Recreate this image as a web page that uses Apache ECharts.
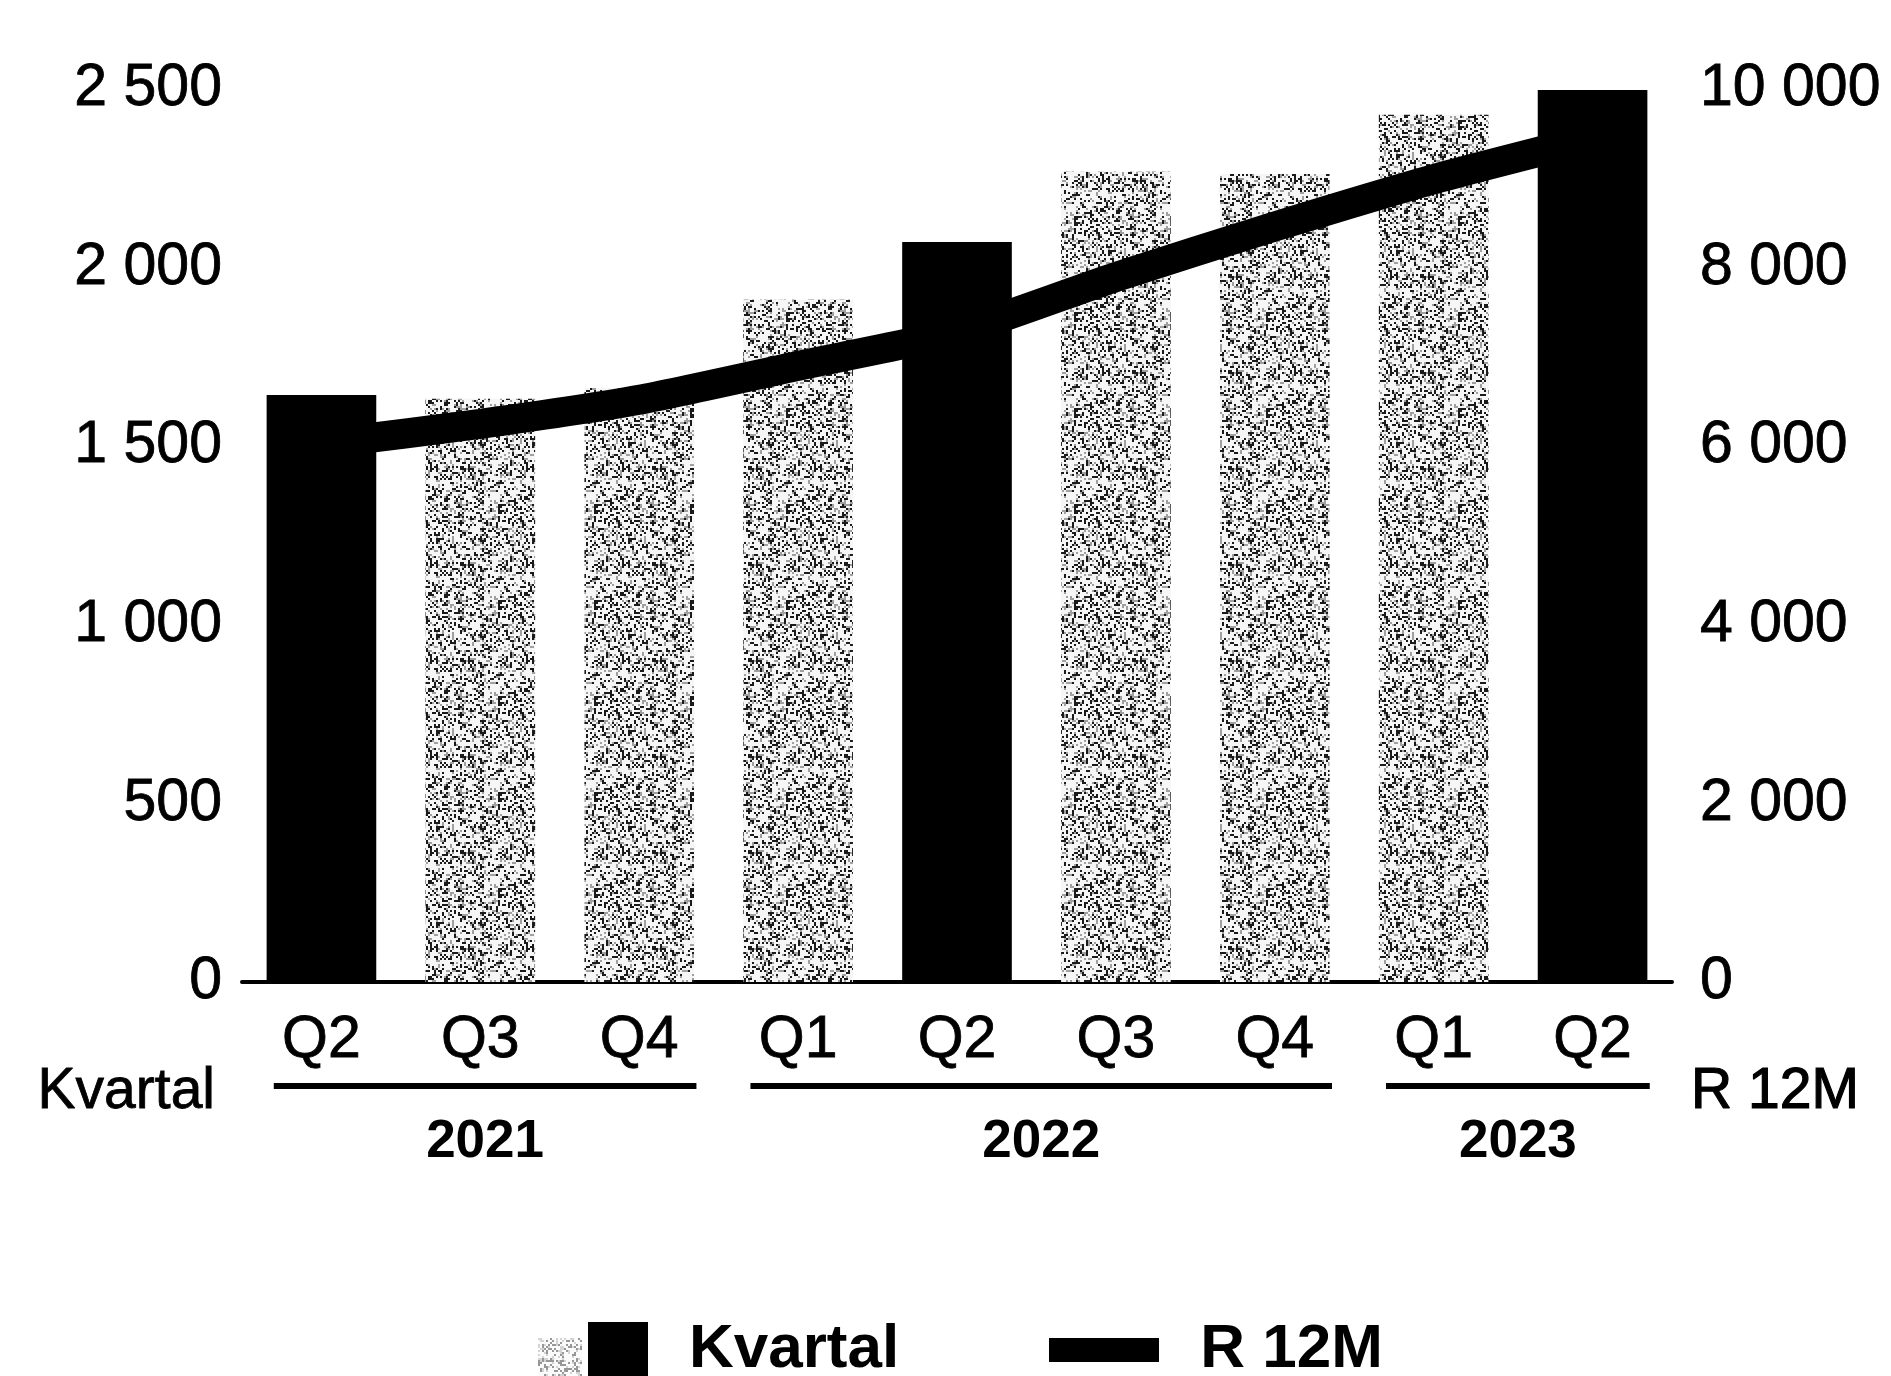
<!DOCTYPE html>
<html>
<head>
<meta charset="utf-8">
<script src="https://cdn.jsdelivr.net/npm/echarts@6/dist/echarts.min.js"></script>
<style>html,body{margin:0;padding:0;background:#fff}#c{width:1891px;height:1376px}</style>
</head>
<body>
<div id="c"></div>
<script>
// ---- data ----
const categories = ['2021 Q2','2021 Q3','2021 Q4','2022 Q1','2022 Q2','2022 Q3','2022 Q4','2023 Q1','2023 Q2'];
const quarterLabels = ['Q2','Q3','Q4','Q1','Q2','Q3','Q4','Q1','Q2'];
const kvartalValues = [1643, 1633, 1663, 1910, 2072, 2268, 2262, 2428, 2497];
const r12mValues = [6025, 6250, 6520, 6900, 7280, 7895, 8460, 8990, 9450];
const highlightIdx = [0, 4, 8];
const years = ['2021', '2022', '2023'];
const yearStart = [0, 3, 7];
const yearEnd = [2, 6, 8];
const leftAxisTitle = 'Kvartal';
const rightAxisTitle = 'R 12M';

const FONT = '"Liberation Sans", Arial, Helvetica, sans-serif';

// deterministic stipple texture (style only)
function stippleCanvas(w, h, seed) {
  const c = document.createElement('canvas');
  c.width = w; c.height = h;
  const ctx = c.getContext('2d');
  ctx.fillStyle = '#f6f6f6';
  ctx.fillRect(0, 0, w, h);
  let s = seed >>> 0;
  const rnd = () => { s ^= s << 13; s >>>= 0; s ^= s >>> 17; s ^= s << 5; s >>>= 0; return s / 4294967296; };
  const cell = 2;
  for (let y = 0; y < h; y += cell) {
    for (let x = 0; x < w; x += cell) {
      const r = rnd();
      if (r < 0.24) { ctx.fillStyle = '#1a1a1a'; ctx.fillRect(x, y, cell, cell); }
      else if (r < 0.38) { ctx.fillStyle = '#a0a0a0'; ctx.fillRect(x, y, cell, cell); }
    }
  }
  return c;
}
const pattern = { image: stippleCanvas(96, 96, 987654321), repeat: 'repeat' };

function kvartalIcon() {
  const c = document.createElement('canvas');
  c.width = 110; c.height = 56;
  const ctx = c.getContext('2d');
  const st = stippleCanvas(44, 40, 24681357);
  ctx.globalAlpha = 0.45;
  ctx.drawImage(st, 0, 16);
  ctx.globalAlpha = 1;
  ctx.fillStyle = '#000';
  ctx.fillRect(50, 0, 60, 56);
  return 'image://' + c.toDataURL();
}
function lineIcon() {
  const c = document.createElement('canvas');
  c.width = 110; c.height = 56;
  const ctx = c.getContext('2d');
  ctx.fillStyle = '#000';
  ctx.fillRect(0, 16, 110, 24);
  return 'image://' + c.toDataURL();
}

const fmt = v => String(v).replace(/\B(?=(\d{3})+(?!\d))/g, ' ');

const chart = echarts.init(document.getElementById('c'), null, { renderer: 'canvas' });

const barData = kvartalValues.map((v, i) => ({
  value: v,
  itemStyle: { color: highlightIdx.includes(i) ? '#000' : pattern }
}));

const labelStyle = { fontFamily: FONT, fontSize: 59, color: '#000', textBorderColor: '#000', textBorderWidth: 0.8 };

chart.setOption({
  backgroundColor: '#fff',
  animation: false,
  textStyle: { fontFamily: FONT },
  grid: { left: 242, right: 219, top: 89, bottom: 394, containLabel: false },
  legend: {
    left: 533, top: 1314,
    itemWidth: 110, itemHeight: 56, itemGap: 150,
    textStyle: { fontFamily: FONT, fontSize: 62, fontWeight: 'bold', color: '#000', padding: [0, 0, 0, 36] },
    data: [
      { name: 'Kvartal', icon: kvartalIcon() },
      { name: 'R 12M', icon: lineIcon() }
    ]
  },
  xAxis: {
    type: 'category',
    data: categories,
    boundaryGap: true,
    axisLine: { show: true, lineStyle: { color: '#000', width: 4 } },
    axisTick: { show: false },
    axisLabel: Object.assign({}, labelStyle, {
      margin: 29,
      formatter: (val, idx) => quarterLabels[idx]
    }),
    splitLine: { show: false }
  },
  yAxis: [
    {
      type: 'value', min: 0, max: 2500, interval: 500,
      axisLine: { show: false }, axisTick: { show: false }, splitLine: { show: false },
      axisLabel: Object.assign({}, labelStyle, { margin: 20, formatter: fmt })
    },
    {
      type: 'value', min: 0, max: 10000, interval: 2000, position: 'right',
      axisLine: { show: false }, axisTick: { show: false }, splitLine: { show: false },
      axisLabel: Object.assign({}, labelStyle, { margin: 28, formatter: fmt })
    }
  ],
  series: [
    {
      name: 'Kvartal', type: 'bar', data: barData, barWidth: '69%',
      itemStyle: { color: '#000' }, z: 2
    },
    {
      name: 'R 12M', type: 'line', yAxisIndex: 1, data: r12mValues,
      smooth: 0.2, symbol: 'none', z: 3,
      lineStyle: { color: '#000', width: 30, cap: 'butt' },
      itemStyle: { color: '#000' }
    }
  ]
});

function drawExtras() {
  const px = i => chart.convertToPixel({ xAxisIndex: 0 }, i);
  const step = px(1) - px(0);
  const axisY = chart.convertToPixel({ yAxisIndex: 0 }, 0);
  const gridLeft = px(0) - step / 2;
  const gridRight = px(categories.length - 1) + step / 2;
  const elements = [];
  years.forEach((y, k) => {
    const x1 = px(yearStart[k]) - 0.3 * step;
    const x2 = px(yearEnd[k]) + 0.36 * step;
    elements.push({
      type: 'line', shape: { x1, y1: axisY + 104, x2, y2: axisY + 104 },
      style: { stroke: '#000', lineWidth: 6 }, silent: true
    });
    elements.push({
      type: 'text', x: (x1 + x2) / 2, y: axisY + 160,
      style: { text: y, font: 'bold 53px ' + FONT, fill: '#000', align: 'center', verticalAlign: 'middle' },
      silent: true
    });
  });
  elements.push({
    type: 'text', x: gridLeft - 27, y: axisY + 110,
    style: { text: leftAxisTitle, font: '57px ' + FONT, fill: '#000', stroke: '#000', lineWidth: 0.8, align: 'right', verticalAlign: 'middle' },
    silent: true
  });
  elements.push({
    type: 'text', x: gridRight + 19, y: axisY + 110,
    style: { text: rightAxisTitle, font: '57px ' + FONT, fill: '#000', stroke: '#000', lineWidth: 1.2, align: 'left', verticalAlign: 'middle' },
    silent: true
  });
  chart.setOption({ graphic: { elements } });
}
drawExtras();
</script>
</body>
</html>
